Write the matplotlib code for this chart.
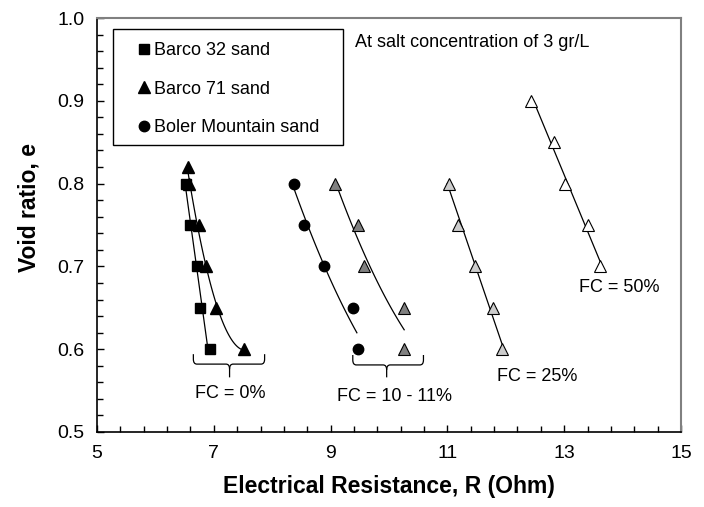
import numpy as np
import matplotlib
matplotlib.use("Agg")
import matplotlib.pyplot as plt
from matplotlib.path import Path
from matplotlib.patches import PathPatch, Rectangle

plt.rcParams['font.family'] = ['Liberation Sans', 'DejaVu Sans']

# ---- data ----
b32_R = [6.52, 6.60, 6.71, 6.76, 6.93]
b32_e = [0.80, 0.75, 0.70, 0.65, 0.60]

b71_R = [6.55, 6.57, 6.75, 6.87, 7.03, 7.52]
b71_e = [0.82, 0.80, 0.75, 0.70, 0.65, 0.60]

bol_R = [8.38, 8.55, 8.89, 9.38, 9.47]
bol_e = [0.80, 0.75, 0.70, 0.65, 0.60]

fc10_R = [9.08, 9.47, 9.57, 10.25, 10.25]
fc10_e = [0.80, 0.75, 0.70, 0.65, 0.60]

fc25_R = [11.03, 11.18, 11.48, 11.78, 11.94]
fc25_e = [0.80, 0.75, 0.70, 0.65, 0.60]

fc50_R = [12.44, 12.83, 13.01, 13.41, 13.62]
fc50_e = [0.90, 0.85, 0.80, 0.75, 0.70]

fig = plt.figure(figsize=(7.04, 5.07), dpi=100)
ax = fig.add_axes([97/704, 1-432/507, (681-97)/704, (432-18)/507])

lw = 0.9
def lin_R_of_e(R, e, e0, e1):
    c = np.polyfit(e, R, 1)
    ee = np.linspace(e0, e1, 50)
    ax.plot(np.polyval(c, ee), ee, color='black', lw=lw, zorder=2)

def quad_e_of_R(R, e, r0, r1):
    c = np.polyfit(R, e, 2)
    rr = np.linspace(r0, r1, 100)
    ax.plot(rr, np.polyval(c, rr), color='black', lw=lw, zorder=2)

lin_R_of_e(b32_R, b32_e, 0.60, 0.80)
quad_e_of_R(b71_R, b71_e, 6.55, 7.52)
quad_e_of_R(bol_R, bol_e, 8.38, 9.45)
quad_e_of_R(fc10_R, fc10_e, 9.08, 10.26)
lin_R_of_e(fc25_R, fc25_e, 0.605, 0.80)
lin_R_of_e(fc50_R, fc50_e, 0.705, 0.90)

ms = 7.5
mt = 8.2
ax.plot(b32_R, b32_e, 's', color='black', ms=ms, ls='none', zorder=3, label='Barco 32 sand')
ax.plot(b71_R, b71_e, '^', color='black', ms=mt, ls='none', zorder=3, label='Barco 71 sand')
ax.plot(bol_R, bol_e, 'o', color='black', ms=ms, ls='none', zorder=3, label='Boler Mountain sand')
ax.plot(fc10_R, fc10_e, '^', mfc='#808080', mec='black', mew=0.8, ms=mt, ls='none', zorder=3)
ax.plot(fc25_R, fc25_e, '^', mfc='#cccccc', mec='black', mew=0.8, ms=mt, ls='none', zorder=3)
ax.plot(fc50_R, fc50_e, '^', mfc='white', mec='black', mew=0.8, ms=mt, ls='none', zorder=3)

ax.set_xlim(5, 15)
ax.set_ylim(0.5, 1.0)
ax.set_xticks([5, 7, 9, 11, 13, 15])
ax.set_xticks(np.arange(5, 15.01, 0.4), minor=True)
ax.set_yticks([0.5, 0.6, 0.7, 0.8, 0.9, 1.0])
ax.set_yticks(np.arange(0.5, 1.001, 0.02), minor=True)
ax.set_yticklabels(['0.5', '0.6', '0.7', '0.8', '0.9', '1.0'])
ax.tick_params(which='both', direction='in', top=False, right=False, labelsize=14, width=1)
ax.tick_params(which='major', length=5, pad=9)
ax.tick_params(which='minor', length=4)
for s in ['left', 'bottom']:
    ax.spines[s].set_linewidth(1.2)
for s in ['top', 'right']:
    ax.spines[s].set_color('#808080')
    ax.spines[s].set_linewidth(1.5)

ax.set_xlabel('Electrical Resistance, R (Ohm)', fontsize=16.5, fontweight='bold', labelpad=10)
ax.set_ylabel('Void ratio, e', fontsize=16.5, fontweight='bold')
ax.yaxis.set_label_coords(-0.097, 0.543)

fs = 13
# legend box
ax.add_patch(Rectangle(((113-97)/584, 1-(145-18)/414), (343-113)/584, (145-29)/414,
                       transform=ax.transAxes, fill=False, ec='black', lw=1.0, zorder=4))
leg = ax.legend(loc='upper left', bbox_to_anchor=((137-97)/584, 1-(42-18)/414), fontsize=fs,
                frameon=False, borderpad=0, labelspacing=1.2, handletextpad=0.15,
                handlelength=0.8, borderaxespad=0)

ax.text(9.42, 0.97, 'At salt concentration of 3 gr/L', fontsize=fs, va='center', ha='left')
ax.text(7.29, 0.547, 'FC = 0%', fontsize=fs, va='center', ha='center')
ax.text(10.1, 0.543, 'FC = 10 - 11%', fontsize=fs, va='center', ha='center')
ax.text(12.53, 0.567, 'FC = 25%', fontsize=fs, va='center', ha='center')
ax.text(13.94, 0.675, 'FC = 50%', fontsize=fs, va='center', ha='center')

def bracket(x0, x1, ytop, ybot, ytick, xc):
    r = 0.06
    ry = 0.006
    verts = [(x0, ytop), (x0, ybot + ry), (x0, ybot), (x0 + r, ybot),
             (xc - r, ybot), (xc, ybot), (xc, ybot - ry), (xc, ytick)]
    codes = [Path.MOVETO, Path.LINETO, Path.CURVE3, Path.CURVE3,
             Path.LINETO, Path.CURVE3, Path.CURVE3, Path.LINETO]
    verts2 = [(x1, ytop), (x1, ybot + ry), (x1, ybot), (x1 - r, ybot),
              (xc + r, ybot), (xc, ybot), (xc, ybot - ry)]
    codes2 = [Path.MOVETO, Path.LINETO, Path.CURVE3, Path.CURVE3,
              Path.LINETO, Path.CURVE3, Path.CURVE3]
    for v, c in [(verts, codes), (verts2, codes2)]:
        ax.add_patch(PathPatch(Path(v, c), fill=False, lw=0.9, ec='black'))

bracket(6.65, 7.87, 0.594, 0.582, 0.566, 7.27)
bracket(9.38, 10.59, 0.593, 0.581, 0.566, 9.96)

fig.savefig('out.png', dpi=100)
